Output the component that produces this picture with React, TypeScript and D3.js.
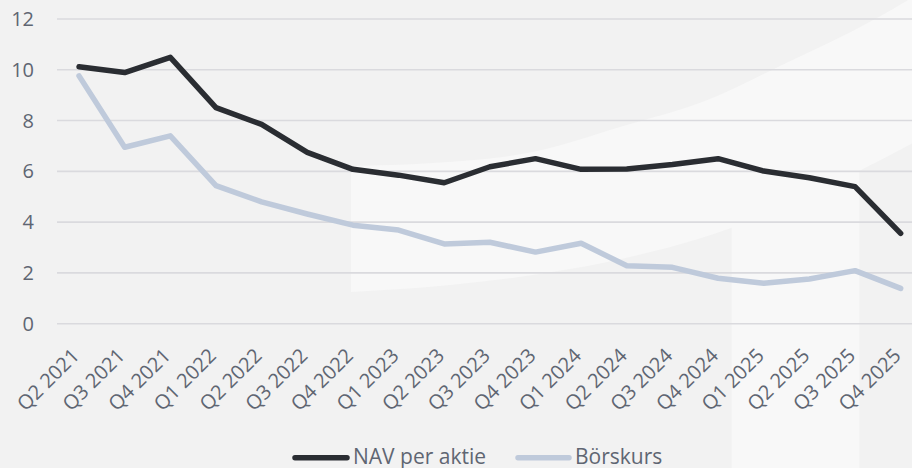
import React from "react";
import * as d3 from "d3";

const categories = [
  "Q2 2021", "Q3 2021", "Q4 2021", "Q1 2022", "Q2 2022", "Q3 2022", "Q4 2022",
  "Q1 2023", "Q2 2023", "Q3 2023", "Q4 2023", "Q1 2024", "Q2 2024", "Q3 2024",
  "Q4 2024", "Q1 2025", "Q2 2025", "Q3 2025", "Q4 2025",
];
const navPerAktie = [10.12, 9.89, 10.49, 8.51, 7.85, 6.75, 6.08, 5.85, 5.55, 6.18, 6.5, 6.08, 6.09, 6.27, 6.5, 6.01, 5.75, 5.4, 3.56];
const borskurs = [9.76, 6.95, 7.4, 5.44, 4.8, 4.32, 3.88, 3.69, 3.14, 3.21, 2.82, 3.17, 2.28, 2.22, 1.79, 1.59, 1.76, 2.09, 1.39];
const yTicks = [0, 2, 4, 6, 8, 10, 12];
const seriesNames = ["NAV per aktie", "Börskurs"];

const W = 912;
const H = 468;
const FONT = "'Open Sans', sans-serif";
const TEXT = "#5f6672";
const NAV_COLOR = "#2a2d32";
const BORS_COLOR = "#bfcadb";

// decorative background swoosh
const upperArc: [number, number][] = [
  [351, 166], [433, 163], [533, 152], [620, 127], [710, 99], [780, 66], [877, 18], [915, -4],
];
const lowerArc: [number, number][] = [
  [351, 292], [450, 285], [540, 274], [630, 257], [731, 228], [800, 199], [859, 171], [915, 142],
];

export default function App() {
  const x = d3.scaleBand<string>().domain(categories).range([56.2, 923.5]);
  const cx = (c: string) => (x(c) as number) + x.bandwidth() / 2;
  const y = d3.scaleLinear().domain([0, 12]).range([323.7, 19]);

  const line = d3
    .line<number>()
    .x((_, i) => cx(categories[i]))
    .y((d) => y(d));

  const curve = d3.line<[number, number]>().curve(d3.curveMonotoneX);
  const upper = curve(upperArc) as string;
  const lowerRev = curve([...lowerArc].reverse() as [number, number][]) as string;
  const band = upper + "L" + lowerRev.slice(1) + "Z";

  return (
    <svg
      width={W}
      height={H}
      style={{ position: "absolute", left: 0, top: 0, display: "block" }}
      fontFamily={FONT}
    >
      <rect x={0} y={0} width={W} height={H} fill="#f2f2f2" />
      <path d={band} fill="#f8f8f8" />
      <rect x={731.7} y={160} width={859.3 - 731.7} height={H - 160} fill="#f8f8f8" />

      {yTicks.map((t) => (
        <g key={t}>
          <line x1={57} x2={W} y1={y(t)} y2={y(t)} stroke="#dadade" strokeWidth={1.6} />
          <text x={34} y={y(t)} dy="0.35em" textAnchor="end" fontSize={20} fill={TEXT}>
            {t}
          </text>
        </g>
      ))}

      {categories.map((c) => (
        <text
          key={c}
          transform={`translate(${cx(c) + 1.5},${357}) rotate(-45)`}
          textAnchor="end"
          fontSize={20}
          fill={TEXT}
        >
          {c}
        </text>
      ))}

      <path
        d={line(borskurs) as string}
        fill="none"
        stroke={BORS_COLOR}
        strokeWidth={5.5}
        strokeLinejoin="round"
        strokeLinecap="round"
      />
      <path
        d={line(navPerAktie) as string}
        fill="none"
        stroke={NAV_COLOR}
        strokeWidth={5.5}
        strokeLinejoin="round"
        strokeLinecap="round"
      />

      <g>
        <line x1={295} x2={347} y1={457.7} y2={457.7} stroke={NAV_COLOR} strokeWidth={5.5} strokeLinecap="round" />
        <text x={353} y={464} fontSize={21} fill={TEXT}>
          {seriesNames[0]}
        </text>
        <line x1={518} x2={569} y1={457.7} y2={457.7} stroke={BORS_COLOR} strokeWidth={5.5} strokeLinecap="round" />
        <text x={575} y={464} fontSize={21} fill={TEXT}>
          {seriesNames[1]}
        </text>
      </g>
    </svg>
  );
}
